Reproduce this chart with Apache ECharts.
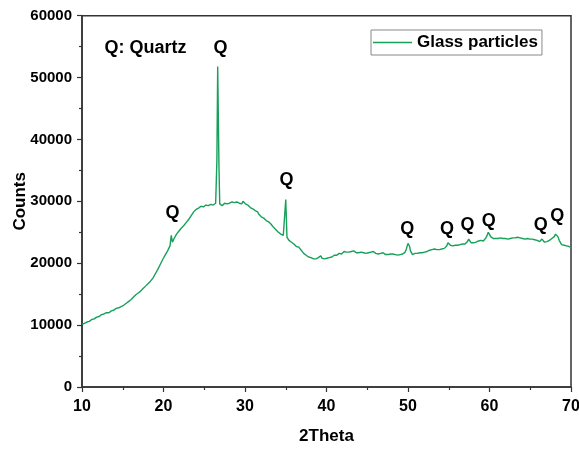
<!DOCTYPE html>
<html>
<head>
<meta charset="utf-8">
<script src="https://cdn.jsdelivr.net/npm/echarts@6/dist/echarts.min.js"></script>
<style>
  html, body { margin: 0; padding: 0; background: #fff; }
  #chart { width: 579px; height: 449px; }
</style>
</head>
<body>
<div id="chart"></div>
<script>
// XRD pattern of the glass particles: 2θ (degrees) and counts
const twoTheta = [
  10.0, 10.3, 10.6, 10.9, 11.2, 11.5, 11.8, 12.1, 12.4, 12.7,
  13.0, 13.3, 13.6, 13.9, 14.2, 14.5, 14.8, 15.1, 15.4, 15.7,
  16.0, 16.3, 16.6, 16.9, 17.2, 17.5, 17.8, 18.1, 18.4, 18.7,
  19.0, 19.3, 19.6, 19.9, 20.2, 20.5, 20.8, 20.95, 21.1, 21.3,
  21.6, 21.9, 22.2, 22.5, 22.8, 23.1, 23.4, 23.7, 23.85, 24.0,
  24.15, 24.3, 24.45, 24.6, 24.75, 24.9, 25.05, 25.2, 25.35, 25.5,
  25.65, 25.8, 25.95, 26.1, 26.25, 26.4, 26.55, 26.65, 26.8, 26.9,
  27.05, 27.2, 27.35, 27.5, 27.65, 27.8, 27.95, 28.1, 28.25, 28.4,
  28.55, 28.7, 28.85, 29.0, 29.15, 29.3, 29.45, 29.6, 29.75, 29.9,
  30.05, 30.2, 30.35, 30.5, 30.65, 30.8, 30.95, 31.1, 31.25, 31.4,
  31.55, 31.7, 31.85, 32.0, 32.15, 32.3, 32.45, 32.6, 32.75, 32.9,
  33.05, 33.2, 33.35, 33.5, 33.65, 33.8, 33.95, 34.1, 34.25, 34.4,
  34.55, 34.7, 34.85, 35.0, 35.15, 35.4, 35.7, 36.0, 36.3, 36.6,
  36.9, 37.2, 37.5, 37.8, 38.1, 38.25, 38.4, 38.55, 38.7, 38.85,
  39.0, 39.15, 39.3, 39.45, 39.6, 39.75, 39.9, 40.05, 40.2, 40.35,
  40.5, 40.65, 40.8, 40.95, 41.1, 41.25, 41.4, 41.55, 41.7, 41.85,
  42.0, 42.15, 42.3, 42.45, 42.6, 42.75, 42.9, 43.05, 43.2, 43.35,
  43.5, 43.65, 43.8, 43.95, 44.1, 44.25, 44.4, 44.55, 44.7, 44.85,
  45.0, 45.15, 45.3, 45.45, 45.6, 45.75, 45.9, 46.05, 46.2, 46.35,
  46.5, 46.65, 46.8, 46.95, 47.1, 47.25, 47.4, 47.55, 47.7, 47.85,
  48.0, 48.15, 48.3, 48.45, 48.6, 48.75, 48.9, 49.05, 49.2, 49.35,
  49.5, 49.65, 49.8, 49.9, 50.0, 50.1, 50.2, 50.3, 50.4, 50.55,
  50.7, 50.85, 51.0, 51.15, 51.3, 51.45, 51.6, 51.75, 51.9, 52.05,
  52.2, 52.35, 52.5, 52.65, 52.8, 52.95, 53.1, 53.25, 53.4, 53.55,
  53.7, 53.85, 54.0, 54.15, 54.3, 54.45, 54.6, 54.75, 54.9, 55.05,
  55.2, 55.35, 55.5, 55.65, 55.8, 55.95, 56.1, 56.25, 56.4, 56.55,
  56.7, 56.85, 57.0, 57.15, 57.3, 57.45, 57.6, 57.75, 57.9, 58.05,
  58.2, 58.35, 58.5, 58.65, 58.8, 58.95, 59.1, 59.25, 59.4, 59.55,
  59.7, 59.85, 60.0, 60.15, 60.3, 60.45, 60.6, 60.75, 60.9, 61.05,
  61.2, 61.35, 61.5, 61.65, 61.8, 61.95, 62.1, 62.25, 62.4, 62.55,
  62.7, 62.85, 63.0, 63.15, 63.3, 63.45, 63.6, 63.75, 63.9, 64.05,
  64.2, 64.35, 64.5, 64.65, 64.8, 64.95, 65.1, 65.25, 65.4, 65.55,
  65.7, 65.85, 66.0, 66.15, 66.3, 66.45, 66.6, 66.75, 66.9, 67.05,
  67.2, 67.35, 67.5, 67.65, 67.8, 67.95, 68.1, 68.25, 68.4, 68.55,
  68.7, 68.85, 69.0, 69.15, 69.3, 69.45, 69.6, 69.75, 69.9, 70.0
];
const counts = [
  10100, 10300, 10500, 10600, 10900, 11000, 11300, 11400, 11700, 11800,
  12000, 12000, 12300, 12400, 12700, 12800, 13000, 13200, 13500, 13800,
  14100, 14500, 14900, 15200, 15500, 15900, 16300, 16700, 17100, 17600,
  18300, 19000, 19800, 20600, 21300, 22000, 22800, 24500, 23400, 24000,
  24700, 25200, 25700, 26100, 26600, 27100, 27700, 28300, 28500, 28700,
  28600, 28900, 29100, 29200, 28900, 29100, 29300, 29400, 29100, 29300,
  29600, 29500, 29300, 29400, 29600, 29700, 36500, 51800, 36000, 29600,
  29800, 29300, 29500, 29700, 29400, 29600, 29400, 29700, 29500, 29900,
  29600, 29800, 29500, 29900, 30100, 29700, 29900, 29600, 30000, 29700,
  29600, 29300, 29400, 29100, 29000, 29100, 28800, 28600, 28500, 28200,
  28300, 27900, 27800, 27500, 27600, 27300, 27200, 26900, 27000, 26700,
  26500, 26300, 26100, 25800, 25700, 25400, 25300, 25000, 25100, 24700,
  24600, 24500, 24400, 30300, 24200, 23700, 23400, 23100, 22700, 22600,
  22100, 21600, 21300, 21000, 20900, 20800, 20700, 20900, 20700, 20600,
  20900, 21000, 21200, 20800, 20500, 20700, 20700, 20800, 21000, 20900,
  21100, 21000, 21200, 21300, 21500, 21300, 21400, 21600, 21700, 21500,
  21700, 21900, 22100, 21800, 22000, 21800, 22100, 21900, 21700, 22000,
  21900, 21700, 21900, 21700, 21600, 21800, 21900, 21700, 21800, 21600,
  21800, 21700, 21900, 21800, 22100, 21900, 21700, 21600, 21700, 21500,
  21700, 21600, 21500, 21700, 21600, 21400, 21500, 21400, 21600, 21500,
  21400, 21500, 21700, 21400, 21500, 21300, 21500, 21400, 21300, 21500,
  21700, 21800, 22300, 22800, 23200, 23000, 22700, 22000, 21700, 21400,
  21500, 21600, 21700, 21600, 21800, 21700, 21800, 21700, 21900, 21800,
  22000, 21900, 21900, 22100, 22000, 22200, 22100, 22300, 22100, 22200,
  22300, 22200, 22400, 22300, 22500, 22400, 22600, 22800, 23300, 23100,
  22900, 22700, 22800, 22700, 22900, 23000, 22900, 23100, 23000, 23200,
  23100, 23200, 23100, 23300, 23500, 23900, 23600, 23300, 23400, 23300,
  23500, 23400, 23500, 23600, 23500, 23700, 23500, 23600, 23800, 24100,
  24500, 25000, 24700, 24300, 24100, 24000, 23900, 24000, 23800, 24000,
  23900, 24100, 23900, 24000, 24100, 24000, 24200, 23900, 24100, 24000,
  24200, 24100, 24300, 24100, 24000, 24200, 24000, 24100, 24200, 24000,
  24100, 23900, 24100, 24000, 24100, 23900, 24000, 23900, 24000, 23800,
  23900, 23700, 23700, 23500, 23700, 23900, 23600, 23400, 23300, 23500,
  23400, 23700, 23800, 24000, 24100, 24300, 24700, 25000, 24300, 23700,
  23400, 23000, 23100, 22900, 22700, 22800, 22500, 22700, 22600, 22500
];

// Quartz reflection markers, placed in data coordinates
const noteText = ['Q: Quartz', 'Q', 'Q', 'Q', 'Q', 'Q', 'Q', 'Q', 'Q', 'Q'];
const noteX = [17.8, 21.1, 27.0, 35.1, 49.9, 54.8, 57.3, 59.9, 66.3, 68.3];
const noteY = [54700, 28100, 54700, 33400, 25600, 25600, 26100, 26900, 26100, 27700];

const xTicks = [10, 20, 30, 40, 50, 60, 70];
const yTicks = [0, 10000, 20000, 30000, 40000, 50000, 60000];

const seriesName = 'Glass particles';
const lineColor = '#17a05a';
const axisColor = '#333';
const textColor = '#000';
const font = 'Liberation Sans, Arial, sans-serif';

const chart = echarts.init(document.getElementById('chart'), null, { renderer: 'canvas' });

const axisCommon = {
  axisLine: { show: true, onZero: false, lineStyle: { color: axisColor, width: 1.5 } },
  axisTick: { show: true, inside: false, length: 5, lineStyle: { color: axisColor, width: 1.2 } },
  minorTick: { show: true, splitNumber: 2, length: 3, lineStyle: { color: axisColor, width: 1.2 } },
  splitLine: { show: false },
  minorSplitLine: { show: false },
  nameMoveOverlap: false
};

chart.setOption({
  animation: false,
  backgroundColor: '#fff',
  grid: {
    left: 82, right: 8, top: 15.7, bottom: 62,
    outerBoundsMode: 'none', containLabel: false,
    show: true, borderColor: axisColor, borderWidth: 1.5, backgroundColor: 'transparent'
  },
  legend: {
    data: [seriesName],
    left: 371, top: 30,
    padding: [4, 4, 4, 2],
    borderColor: '#888', borderWidth: 1,
    icon: 'rect', itemWidth: 39, itemHeight: 1.5, itemGap: 0,
    textStyle: { fontFamily: font, fontWeight: 'bold', fontSize: 17, color: textColor }
  },
  xAxis: Object.assign({
    type: 'value',
    min: xTicks[0], max: xTicks[xTicks.length - 1], interval: 10,
    name: '2Theta', nameLocation: 'middle', nameGap: 41,
    nameTextStyle: { fontFamily: font, fontWeight: 'bold', fontSize: 17, color: textColor },
    axisLabel: { margin: 12, fontFamily: font, fontWeight: 'bold', fontSize: 16, color: textColor }
  }, axisCommon),
  yAxis: Object.assign({
    type: 'value',
    min: yTicks[0], max: yTicks[yTicks.length - 1], interval: 10000,
    name: 'Counts', nameLocation: 'middle', nameGap: 53, nameRotate: 90,
    nameTextStyle: { fontFamily: font, fontWeight: 'bold', fontSize: 17, color: textColor },
    axisLabel: {
      margin: 10, fontFamily: font, fontWeight: 'bold', fontSize: 15, color: textColor,
      formatter: v => String(v)
    }
  }, axisCommon),
  series: [
    {
      name: seriesName,
      type: 'line',
      data: twoTheta.map((x, i) => [x, counts[i]]),
      symbol: 'none',
      lineStyle: { color: lineColor, width: 1.4 },
      itemStyle: { color: lineColor },
      silent: true
    },
    {
      name: 'notes',
      type: 'scatter',
      data: noteX.map((x, i) => ({ name: noteText[i], value: [x, noteY[i]] })),
      symbolSize: 0,
      silent: true,
      label: {
        show: true, position: 'inside', formatter: '{b}',
        fontFamily: font, fontWeight: 'bold', fontSize: 18, color: textColor,
        textBorderWidth: 0, opacity: 1
      }
    }
  ]
});
</script>
</body>
</html>
